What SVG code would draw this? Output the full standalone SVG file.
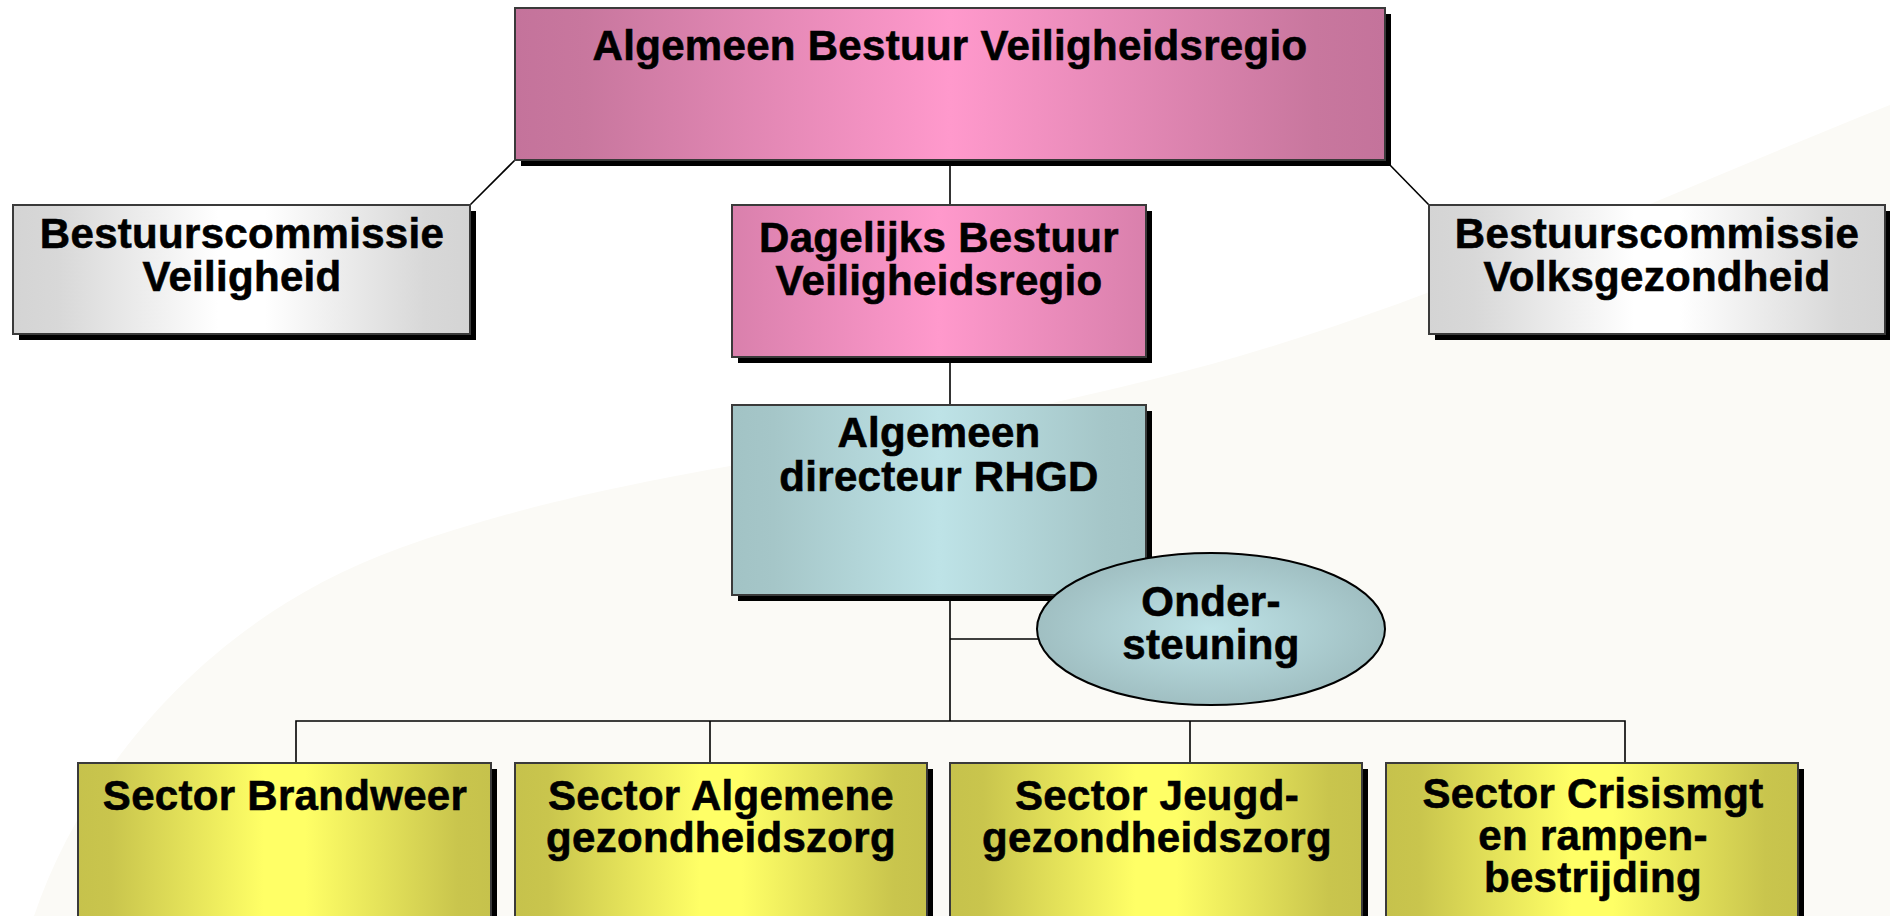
<svg xmlns="http://www.w3.org/2000/svg" width="1890" height="916" viewBox="0 0 1890 916">
<defs>
<linearGradient id="gPinkTop" x1="0" y1="0" x2="1" y2="0">
<stop offset="0" stop-color="#c4739b"/><stop offset="0.08" stop-color="#c8779e"/><stop offset="0.5" stop-color="#ff99cc"/><stop offset="0.92" stop-color="#c8779e"/><stop offset="1" stop-color="#c4739b"/>
</linearGradient>
<linearGradient id="gPink" x1="0" y1="0" x2="1" y2="0">
<stop offset="0" stop-color="#d980ac"/><stop offset="0.5" stop-color="#ff99cc"/><stop offset="1" stop-color="#d980ac"/>
</linearGradient>
<linearGradient id="gGray" x1="0" y1="0" x2="1" y2="0">
<stop offset="0" stop-color="#d4d4d4"/><stop offset="0.1" stop-color="#d8d8d8"/><stop offset="0.45" stop-color="#ffffff"/><stop offset="0.55" stop-color="#ffffff"/><stop offset="0.9" stop-color="#d8d8d8"/><stop offset="1" stop-color="#d4d4d4"/>
</linearGradient>
<linearGradient id="gTeal" x1="0" y1="0" x2="1" y2="0">
<stop offset="0" stop-color="#a2c3c5"/><stop offset="0.1" stop-color="#a5c6c8"/><stop offset="0.5" stop-color="#bee3e7"/><stop offset="0.9" stop-color="#a5c6c8"/><stop offset="1" stop-color="#a2c3c5"/>
</linearGradient>
<linearGradient id="gYellow" x1="0" y1="0" x2="1" y2="0">
<stop offset="0" stop-color="#c6c24c"/><stop offset="0.08" stop-color="#c9c54d"/><stop offset="0.45" stop-color="#ffff66"/><stop offset="0.55" stop-color="#ffff66"/><stop offset="0.92" stop-color="#c9c54d"/><stop offset="1" stop-color="#c6c24c"/>
</linearGradient>
<radialGradient id="gEll" cx="0.5" cy="0.5" r="0.5">
<stop offset="0" stop-color="#bee3e7"/><stop offset="1" stop-color="#a0bfc2"/>
</radialGradient>
</defs>
<style>
.box{stroke:#3a3a3a;stroke-width:2}
.shadow{fill:#000}
.lbl{font-family:"Liberation Sans",Arial,sans-serif;font-weight:bold;font-size:42px;letter-spacing:0.3px;fill:#000;stroke:#000;stroke-width:0.6;text-anchor:middle}
.con{stroke:#000;stroke-width:1.6;fill:none}
</style>
<rect x="0" y="0" width="1890" height="916" fill="#ffffff"/>
<path d="M 34 916 C 80 780, 200 620, 400 548 C 520 505, 640 482, 730 466 C 900 436, 1050 405, 1150 380 C 1400 320, 1650 200, 1890 105 L 1890 916 Z" fill="#fbfaf6"/>

<g id="connectors">
<line class="con" x1="515" y1="160" x2="470" y2="205"/>
<line class="con" x1="1387" y1="162" x2="1429" y2="205"/>
<line class="con" x1="950" y1="160" x2="950" y2="205"/>
<line class="con" x1="950" y1="357" x2="950" y2="405"/>
<line class="con" x1="950" y1="595" x2="950" y2="721"/>
<line class="con" x1="950" y1="639" x2="1045" y2="639"/>
<polyline class="con" points="296,763 296,721 1625,721 1625,763"/>
<line class="con" x1="710" y1="721" x2="710" y2="763"/>
<line class="con" x1="1190" y1="721" x2="1190" y2="763"/>
</g>

<g id="node-top">
<rect class="shadow" x="521" y="14" width="870" height="152"/>
<rect class="box" x="515" y="8" width="870" height="152" fill="url(#gPinkTop)"/>
<text class="lbl" x="950" y="60">Algemeen Bestuur Veiligheidsregio</text>
</g>

<g id="node-bc-veiligheid">
<rect class="shadow" x="19" y="211" width="457" height="129"/>
<rect class="box" x="13" y="205" width="457" height="129" fill="url(#gGray)"/>
<text class="lbl" x="242" y="248">Bestuurscommissie</text>
<text class="lbl" x="242" y="291">Veiligheid</text>
</g>

<g id="node-bc-volksgezondheid">
<rect class="shadow" x="1435" y="211" width="456" height="129"/>
<rect class="box" x="1429" y="205" width="456" height="129" fill="url(#gGray)"/>
<text class="lbl" x="1657" y="248">Bestuurscommissie</text>
<text class="lbl" x="1657" y="291">Volksgezondheid</text>
</g>

<g id="node-dagelijks">
<rect class="shadow" x="738" y="211" width="414" height="152"/>
<rect class="box" x="732" y="205" width="414" height="152" fill="url(#gPink)"/>
<text class="lbl" x="939" y="252">Dagelijks Bestuur</text>
<text class="lbl" x="939" y="295">Veiligheidsregio</text>
</g>

<g id="node-directeur">
<rect class="shadow" x="738" y="411" width="414" height="190"/>
<rect class="box" x="732" y="405" width="414" height="190" fill="url(#gTeal)"/>
<text class="lbl" x="939" y="447">Algemeen</text>
<text class="lbl" x="939" y="491">directeur RHGD</text>
</g>

<g id="node-ondersteuning">
<ellipse cx="1211" cy="629" rx="174" ry="76" fill="url(#gEll)" stroke="#000" stroke-width="2"/>
<text class="lbl" x="1211" y="616">Onder-</text>
<text class="lbl" x="1211" y="659">steuning</text>
</g>

<g id="node-brandweer">
<rect class="shadow" x="84" y="769" width="413" height="180"/>
<rect class="box" x="78" y="763" width="413" height="180" fill="url(#gYellow)"/>
<text class="lbl" x="285" y="810">Sector Brandweer</text>
</g>

<g id="node-algemene">
<rect class="shadow" x="521" y="769" width="412" height="180"/>
<rect class="box" x="515" y="763" width="412" height="180" fill="url(#gYellow)"/>
<text class="lbl" x="721" y="810">Sector Algemene</text>
<text class="lbl" x="721" y="852">gezondheidszorg</text>
</g>

<g id="node-jeugd">
<rect class="shadow" x="956" y="769" width="412" height="180"/>
<rect class="box" x="950" y="763" width="412" height="180" fill="url(#gYellow)"/>
<text class="lbl" x="1157" y="810">Sector Jeugd-</text>
<text class="lbl" x="1157" y="852">gezondheidszorg</text>
</g>

<g id="node-crisis">
<rect class="shadow" x="1392" y="769" width="412" height="180"/>
<rect class="box" x="1386" y="763" width="412" height="180" fill="url(#gYellow)"/>
<text class="lbl" x="1593" y="808">Sector Crisismgt</text>
<text class="lbl" x="1593" y="850">en rampen-</text>
<text class="lbl" x="1593" y="892">bestrijding</text>
</g>
</svg>
